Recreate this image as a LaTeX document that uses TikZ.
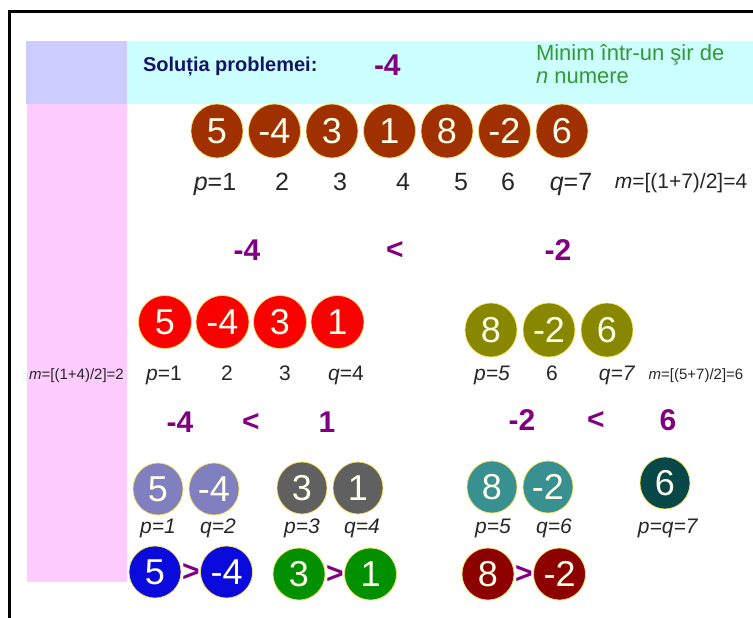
\documentclass[tikz,border=0pt]{standalone}
\usepackage{fontspec}
\setmainfont{Liberation Sans}
\usepackage{xcolor}
\usepackage{tikz}
\usetikzlibrary{positioning, shapes.geometric}

\definecolor{lavbox}{RGB}{204,204,255}
\definecolor{cyanbox}{RGB}{204,255,255}
\definecolor{pinkbox}{RGB}{255,204,255}
\definecolor{headnavy}{RGB}{20,20,100}
\definecolor{headgreen}{RGB}{51,153,51}
\definecolor{cmppurple}{RGB}{128,0,128}
\definecolor{rimgold}{RGB}{245,225,90}
\definecolor{cellwhite}{RGB}{255,255,235}
\definecolor{cbrown}{RGB}{160,48,0}
\definecolor{cred}{RGB}{250,0,0}
\definecolor{colive}{RGB}{136,136,0}
\definecolor{clav}{RGB}{128,128,192}
\definecolor{cgray}{RGB}{96,96,96}
\definecolor{cteal}{RGB}{56,144,144}
\definecolor{cdark}{RGB}{8,72,72}
\definecolor{cblue}{RGB}{10,10,220}
\definecolor{cgreen}{RGB}{0,144,0}
\definecolor{cmaroon}{RGB}{140,0,0}

\begin{document}
\begin{tikzpicture}[
        x=1pt, y=-1pt,
        every node/.style={inner sep=0pt, outer sep=0pt},
        cell/.style={ellipse, draw=rimgold, line width=0.7pt, text=cellwhite,
        minimum width=52pt, minimum height=54pt,
        font=\fontsize{36}{36}\selectfont},
        smallcell/.style={cell, minimum width=50pt, minimum height=52pt},
        idx/.style={anchor=base, text=black!85,
        font=\fontsize{21}{21}\selectfont},
        bigidx/.style={idx, font=\fontsize{25}{25}\selectfont},
        midx/.style={idx, font=\fontsize{15}{15}\selectfont},
        cmp/.style={text=cmppurple, font=\fontsize{30}{30}\selectfont\bfseries},
      ]

      \useasboundingbox (0,0) rectangle (753,618);
      \fill[lavbox] (26,41) rectangle (127,104);
      \fill[cyanbox] (127,41) rectangle (753,104);
      \fill[pinkbox] (27,104) rectangle (127,582);
      \draw[line width=2.5pt] (9.5,618) -- (9.5,11.5) -- (753,11.5);

      \node[anchor=base west, text=headnavy,
        font=\fontsize{20}{20}\selectfont\bfseries] (sol) at (143,72)
        {Soluția problemei:};
      \node[cmp, anchor=base west, font=\fontsize{30}{30}\selectfont\bfseries]
        (solval) at (374,76) {-4};
      \node[anchor=north west, align=left, text=headgreen,
        font=\fontsize{22}{23}\selectfont] (task) at (536,44)
        {Minim într-un şir de\\\textit{n} numere};

      \node[cell, fill=cbrown] (a1) at (217,131) {5};
      \node[cell, fill=cbrown, right=5.5pt of a1] (a2) {-4};
      \node[cell, fill=cbrown, right=5.5pt of a2] (a3) {3};
      \node[cell, fill=cbrown, right=5.5pt of a3] (a4) {1};
      \node[cell, fill=cbrown, right=5.5pt of a4] (a5) {8};
      \node[cell, fill=cbrown, right=5.5pt of a5] (a6) {-2};
      \node[cell, fill=cbrown, right=5.5pt of a6] (a7) {6};

      \node[bigidx] (ia1) at (215,190) {\textit{p}=1};
      \node[bigidx] (ia2) at (282,190) {2};
      \node[bigidx] (ia3) at (340,190) {3};
      \node[bigidx] (ia4) at (403,190) {4};
      \node[bigidx] (ia5) at (461,190) {5};
      \node[bigidx] (ia6) at (508,190) {6};
      \node[bigidx] (ia7) at (571,190) {\textit{q}=7};
      \node[idx, font=\fontsize{21}{21}\selectfont] (ma) at (681,188.5)
        {\textit{m}=[(1+7)/2]=4};

      \node[cmp] (ca1) at (247,250) {-4};
      \node[cmp] (ca2) at (395,250) {<};
      \node[cmp] (ca3) at (558,250) {-2};

      \node[cell, fill=cred, minimum width=53pt, minimum height=53pt]
        (b1) at (165,322) {5};
      \node[cell, fill=cred, minimum width=53pt, minimum height=53pt,
        right=4.5pt of b1] (b2) {-4};
      \node[cell, fill=cred, minimum width=53pt, minimum height=53pt,
        right=4.5pt of b2] (b3) {3};
      \node[cell, fill=cred, minimum width=53pt, minimum height=53pt,
        right=4.5pt of b3] (b4) {1};

      \node[cell, fill=colive] (b5) at (491,330) {8};
      \node[cell, fill=colive, right=6pt of b5] (b6) {-2};
      \node[cell, fill=colive, right=6pt of b6] (b7) {6};

      \node[midx] (mb) at (76.5,379.4) {\textit{m}=[(1+4)/2]=2};
      \node[idx] (ib1) at (164,380.5) {\textit{p}=1};
      \node[idx] (ib2) at (227,380.5) {2};
      \node[idx] (ib3) at (285,380.5) {3};
      \node[idx] (ib4) at (346,380.5) {\textit{q}=4};
      \node[idx] (ib5) at (492,380.5) {\textit{p=5}};
      \node[idx] (ib6) at (552,380.5) {6};
      \node[idx] (ib7) at (617,380.5) {\textit{q=7}};
      \node[midx] (mc) at (696,379.4) {\textit{m}=[(5+7)/2]=6};

      \node[cmp] (cb1) at (180,422) {-4};
      \node[cmp] (cb2) at (251,422) {<};
      \node[cmp] (cb3) at (327,422) {1};
      \node[cmp] (cc1) at (522,420) {-2};
      \node[cmp] (cc2) at (596,420) {<};
      \node[cmp] (cc3) at (668,420) {6};

      \node[smallcell, fill=clav] (e1) at (158,489) {5};
      \node[smallcell, fill=clav, right=6pt of e1] (e2) {-4};
      \node[smallcell, fill=cgray] (e3) at (302,488) {3};
      \node[smallcell, fill=cgray, right=6pt of e3] (e4) {1};
      \node[smallcell, fill=cteal] (e5) at (492,487) {8};
      \node[smallcell, fill=cteal, right=6pt of e5] (e6) {-2};
      \node[smallcell, fill=cdark] (e7) at (665,483) {6};

      \node[idx] (ie1) at (158,533.5) {\textit{p=1}};
      \node[idx] (ie2) at (218,533.5) {\textit{q=2}};
      \node[idx] (ie3) at (302,533.5) {\textit{p=3}};
      \node[idx] (ie4) at (362,533.5) {\textit{q=4}};
      \node[idx] (ie5) at (493,533.5) {\textit{p=5}};
      \node[idx] (ie6) at (554,533.5) {\textit{q=6}};
      \node[idx] (ie7) at (668,533.5) {\textit{p=q=7}};

      \node[cell, fill=cblue, minimum height=52pt] (d1) at (155,572) {5};
      \node[cmp, right=1pt of d1] (g1) {>};
      \node[cell, fill=cblue, minimum height=52pt, right=1pt of g1] (d2) {-4};
      \node[cell, fill=cgreen, minimum height=52pt] (d3) at (299,574) {3};
      \node[cmp, right=1pt of d3] (g2) {>};
      \node[cell, fill=cgreen, minimum height=52pt, right=1pt of g2] (d4) {1};
      \node[cell, fill=cmaroon, minimum height=52pt] (d5) at (488,574) {8};
      \node[cmp, right=1pt of d5] (g3) {>};
      \node[cell, fill=cmaroon, minimum height=52pt, right=1pt of g3] (d6) {-2};

    \end{tikzpicture}
\end{document}
